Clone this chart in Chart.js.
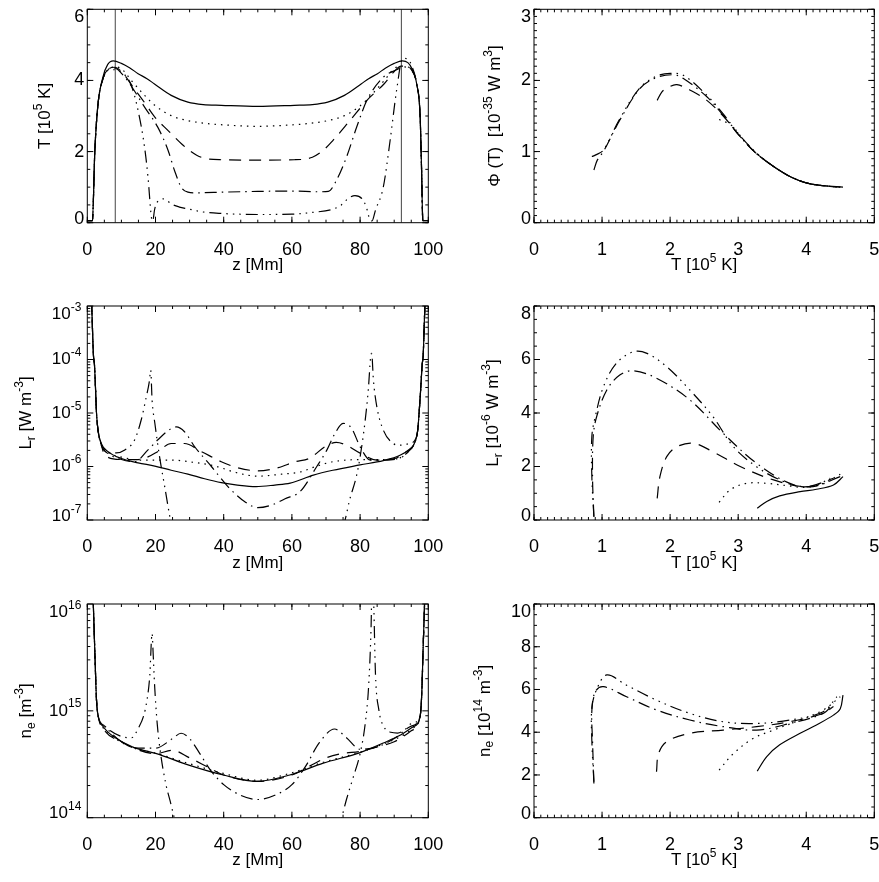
<!DOCTYPE html>
<html>
<head>
<meta charset="utf-8">
<title>Loop profiles</title>
<script src="https://cdn.jsdelivr.net/npm/chart.js@4.4.0/dist/chart.umd.min.js"></script>
<style>
  body { margin: 0; background: #fff; }
  #wrap { position: relative; width: 879px; height: 882px; }
  #wrap canvas { position: absolute; left: 0; top: 0; }
</style>
</head>
<body>
<div id="wrap">
  <canvas id="pT" width="879" height="882"></canvas>
  <canvas id="pPhi" width="879" height="882"></canvas>
  <canvas id="pL" width="879" height="882"></canvas>
  <canvas id="pLT" width="879" height="882"></canvas>
  <canvas id="pN" width="879" height="882"></canvas>
  <canvas id="pNT" width="879" height="882"></canvas>
</div>
<script>
// ---- T(z) [1e5 K] ----
const zTsolid = [0, 1.5, 2.2, 3.1, 4.6, 6, 7.6, 10, 12.5, 14.9, 17.5, 19.7, 24.6, 29.5, 34, 39.3, 50, 60.7, 66, 70.5, 75.4, 80.3, 82.5, 85.1, 87.5, 90, 92.4, 94, 95.1, 96.6, 97.6, 98.0, 98.4, 100];
const Tsolid = [0.06, 0.06, 2.0, 3.3, 4.1, 4.45, 4.55, 4.48, 4.35, 4.19, 4.05, 3.9, 3.58, 3.39, 3.32, 3.3, 3.27, 3.3, 3.32, 3.39, 3.58, 3.9, 4.05, 4.19, 4.35, 4.48, 4.55, 4.5, 4.35, 3.9, 3.0, 1.6, 0.06, 0.06];
const zTdot = [0, 1.5, 2.2, 3.1, 4.6, 6, 8, 10, 12.9, 16.8, 19.8, 24.6, 29.5, 35, 40, 50, 60, 65, 70.5, 75.4, 80.2, 83.2, 87.1, 90, 92, 94, 95.1, 96.6, 97.6, 98.0, 98.4, 100];
const Tdot = [0.06, 0.06, 2.0, 3.3, 4.05, 4.3, 4.38, 4.33, 4.0, 3.58, 3.3, 3.01, 2.87, 2.79, 2.75, 2.71, 2.75, 2.79, 2.87, 3.01, 3.3, 3.58, 4.0, 4.33, 4.4, 4.38, 4.3, 3.9, 3.0, 1.6, 0.06, 0.06];
const zTdash = [0, 1.5, 2.2, 3.1, 4.6, 6, 8, 10, 13.9, 17, 19.8, 23.7, 27.6, 30, 33.4, 39.3, 50, 60.7, 66, 69, 72, 77, 82, 87, 90, 92, 94, 95.1, 96.6, 97.6, 98.0, 98.4, 100];
const Tdash = [0.06, 0.06, 2.0, 3.3, 4.05, 4.3, 4.37, 4.25, 3.75, 3.35, 2.97, 2.59, 2.22, 2.03, 1.84, 1.77, 1.76, 1.77, 1.84, 2.02, 2.31, 2.87, 3.44, 3.9, 4.25, 4.4, 4.38, 4.3, 3.9, 3.0, 1.6, 0.06, 0.06];
const zTdd = [0, 1.5, 2.2, 3.1, 4.6, 6, 8, 10, 12.5, 14.5, 16.8, 20.7, 23.7, 25.6, 27.6, 29.5, 32, 40, 50, 60, 68, 70.7, 73, 76, 79, 82, 86.8, 90.7, 93, 94, 95.1, 96.6, 97.6, 98.0, 98.4, 100];
const Tdd = [0.06, 0.06, 2.0, 3.3, 4.05, 4.3, 4.35, 4.2, 3.9, 3.6, 3.25, 2.68, 2.03, 1.46, 0.99, 0.86, 0.84, 0.86, 0.88, 0.89, 0.87, 0.88, 1.18, 1.84, 2.69, 3.44, 4.09, 4.3, 4.38, 4.36, 4.3, 3.9, 3.0, 1.6, 0.06, 0.06];
const zTddd = [0, 1.5, 2.2, 3.1, 4.6, 6, 8, 10.5, 12.9, 14.9, 16.8, 17.8, 18.8, 19.2, 19.7, 20.2, 21.2, 22.2, 23.4, 24.6, 27, 29.5, 34, 39.3, 50, 60, 66, 72, 74.5, 76.5, 78.5, 80.5, 81.8, 82.8, 83.5, 84.5, 86.8, 88.8, 90.7, 92.5, 94, 95.1, 96.6, 97.6, 98.0, 98.4, 100];
const Tddd = [0.06, 0.06, 2.0, 3.3, 4.05, 4.28, 4.3, 4.2, 3.86, 3.15, 2.12, 1.28, 0.15, 0.05, 0.35, 0.53, 0.63, 0.67, 0.62, 0.53, 0.44, 0.39, 0.3, 0.26, 0.23, 0.24, 0.29, 0.38, 0.5, 0.68, 0.76, 0.68, 0.45, 0.1, 0.05, 0.35, 1.0, 2.31, 3.72, 4.62, 4.6, 4.42, 3.9, 3.0, 1.6, 0.06, 0.06];
const zMarks = [8.2, 92.1];

// ---- Phi(T) [1e-35 W m^3] vs T [1e5 K] ----
const TphiSolid = [3.27, 3.52, 3.76, 4.0, 4.25, 4.54];
const phiSolid = [0.97, 0.79, 0.65, 0.56, 0.52, 0.50];
const TphiDot = [2.72, 2.9, 3.1, 3.3, 3.52, 3.76, 4.0, 4.25, 4.5];
const phiDot = [1.45, 1.37, 1.14, 0.95, 0.79, 0.65, 0.56, 0.52, 0.5];
const TphiDash = [1.81, 1.88, 1.95, 2.1, 2.34, 2.54, 2.78, 3.03, 3.27, 3.52, 3.76, 4.0, 4.25, 4.4];
const phiDash = [1.72, 1.84, 1.89, 1.94, 1.84, 1.72, 1.5, 1.21, 0.97, 0.79, 0.65, 0.56, 0.52, 0.51];
const TphiDD = [0.88, 0.93, 1.02, 1.26, 1.56, 1.8, 2.05, 2.19, 2.54, 2.78, 3.03, 3.27, 3.52, 3.76, 4.0, 4.25, 4.45];
const phiDD = [0.74, 0.88, 1.0, 1.44, 1.89, 2.04, 2.08, 2.03, 1.77, 1.51, 1.21, 0.97, 0.79, 0.65, 0.56, 0.52, 0.5];
const TphiDDD = [0.85, 0.9, 1.02, 1.26, 1.56, 1.8, 2.0, 2.2, 2.54, 2.78, 3.03, 3.27, 3.52, 3.76, 4.0, 4.25, 4.5];
const phiDDD = [0.93, 0.95, 1.02, 1.46, 1.9, 2.06, 2.1, 2.07, 1.79, 1.53, 1.22, 0.98, 0.79, 0.65, 0.56, 0.52, 0.5];

// ---- L_r(z) [W m^-3] ----
const zLsolid = [1.0, 1.3, 1.8, 2.1, 2.4, 2.7, 3.14, 4.1, 6.1, 10, 14.9, 19.8, 24.6, 29.5, 34.4, 39.3, 44, 49.5, 55, 59.5, 66.3, 72, 80, 86.8, 91.7, 94.5, 95.9, 96.9, 97.3, 97.8, 98.2, 98.5, 99.0, 99.4];
const Lsolid = [3e-3, 1e-3, 1.2e-4, 8e-5, 3e-5, 1e-5, 4.8e-6, 2.7e-6, 1.9e-6, 1.41e-6, 1.17e-6, 1.02e-6, 8.5e-7, 7.2e-7, 5.9e-7, 5.0e-7, 4.5e-7, 4.2e-7, 4.5e-7, 4.9e-7, 6.9e-7, 8.5e-7, 1.07e-6, 1.29e-6, 1.62e-6, 2.1e-6, 2.69e-6, 4.8e-6, 1e-5, 3e-5, 8e-5, 1.2e-4, 1e-3, 3e-3];
const zLdot = [1.0, 1.3, 1.8, 2.1, 2.4, 2.7, 3.14, 4.1, 6.1, 10, 15.8, 24.6, 31, 38, 43, 50, 57, 62.4, 67, 72, 82, 87, 91.7, 94.5, 95.9, 96.9, 97.3, 97.8, 98.2, 98.5, 99.0, 99.4];
const Ldot = [3e-3, 1e-3, 1.2e-4, 8e-5, 3e-5, 1e-5, 4.8e-6, 2.6e-6, 1.85e-6, 1.5e-6, 1.32e-6, 1.32e-6, 1.2e-6, 1.0e-6, 7.9e-7, 6.6e-7, 7.2e-7, 7.9e-7, 1.0e-6, 1.23e-6, 1.35e-6, 1.35e-6, 1.45e-6, 2.0e-6, 2.69e-6, 4.8e-6, 1e-5, 3e-5, 8e-5, 1.2e-4, 1e-3, 3e-3];
const zLdash = [1.0, 1.3, 1.8, 2.1, 2.4, 2.7, 3.14, 4.1, 5.1, 10, 14.9, 17.8, 20.7, 24.6, 28.5, 33.4, 39.3, 44, 50, 56, 61, 65, 70, 73, 76, 80, 85, 90, 93, 95.9, 96.9, 97.3, 97.8, 98.2, 98.5, 99.0, 99.4];
const Ldash = [3e-3, 1e-3, 1.2e-4, 8e-5, 3e-5, 1e-5, 4.8e-6, 2.6e-6, 1.62e-6, 1.35e-6, 1.35e-6, 1.51e-6, 1.91e-6, 2.69e-6, 2.69e-6, 1.91e-6, 1.23e-6, 9.5e-7, 8.3e-7, 9.5e-7, 1.23e-6, 1.41e-6, 2.4e-6, 2.82e-6, 2.5e-6, 1.78e-6, 1.32e-6, 1.4e-6, 1.8e-6, 2.69e-6, 4.8e-6, 1e-5, 3e-5, 8e-5, 1.2e-4, 1e-3, 3e-3];
const zLdd = [1.0, 1.3, 1.8, 2.1, 2.4, 2.7, 3.14, 4.1, 6.1, 10, 13.9, 17.8, 20.7, 24.6, 26.1, 28.5, 31.5, 36.4, 41.3, 46.2, 50, 54, 58, 62.4, 67.3, 70.2, 72.5, 75, 77.5, 80, 83, 87, 91.7, 94.5, 95.9, 96.9, 97.3, 97.8, 98.2, 98.5, 99.0, 99.4];
const Ldd = [3e-3, 1e-3, 1.2e-4, 8e-5, 3e-5, 1e-5, 4.8e-6, 2.5e-6, 1.75e-6, 1.35e-6, 1.23e-6, 2.04e-6, 3.16e-6, 5.13e-6, 5.5e-6, 4.47e-6, 2.34e-6, 1.0e-6, 4.17e-7, 2.19e-7, 1.7e-7, 1.9e-7, 2.5e-7, 3.4e-7, 1.0e-6, 2.0e-6, 4.0e-6, 6.4e-6, 5.2e-6, 2.34e-6, 1.32e-6, 1.32e-6, 1.45e-6, 2.0e-6, 2.69e-6, 4.8e-6, 1e-5, 3e-5, 8e-5, 1.2e-4, 1e-3, 3e-3];
const zLddd = [1.0, 1.3, 1.8, 2.1, 2.4, 2.7, 3.14, 4.1, 6.1, 8.5, 11, 13.9, 15.8, 17.3, 18.2, 18.6, 19.0, 19.8, 21.2, 22.7, 24.2, 26, 30, 50, 70, 74, 75.6, 76.9, 78.9, 80, 81.4, 82.4, 83.1, 83.4, 83.9, 84.9, 86.8, 89.7, 91.7, 94.5, 95.9, 96.9, 97.3, 97.8, 98.2, 98.5, 99.0, 99.4];
const Lddd = [3e-3, 1e-3, 1.2e-4, 8e-5, 3e-5, 1e-5, 4.8e-6, 2.6e-6, 1.85e-6, 1.8e-6, 2.04e-6, 3.16e-6, 7.4e-6, 2.0e-5, 3.9e-5, 6.3e-5, 1.74e-5, 6.5e-6, 1.51e-6, 4.2e-7, 1.15e-7, 3e-8, 5e-9, 1e-10, 5e-9, 5e-8, 1e-7, 2.34e-7, 6.5e-7, 1.51e-6, 6.5e-6, 2.7e-5, 1.12e-4, 1.3e-4, 4.17e-5, 1.32e-5, 4.8e-6, 2.7e-6, 2.5e-6, 2.7e-6, 3.0e-6, 4.8e-6, 1e-5, 3e-5, 8e-5, 1.2e-4, 1e-3, 3e-3];

// ---- L_r [1e-6 W m^-3] vs T ----
const TLsolid = [3.28, 3.42, 3.61, 3.91, 4.15, 4.4, 4.54];
const LTsolid = [0.44, 0.69, 0.9, 1.06, 1.15, 1.31, 1.62];
const TLdot = [2.72, 2.88, 3.12, 3.42, 3.76, 4.0, 4.25, 4.5];
const LTdot = [0.66, 1.12, 1.37, 1.37, 1.27, 1.22, 1.37, 1.71];
const TLdash = [1.81, 1.85, 1.95, 2.1, 2.34, 2.63, 3.03, 3.52, 4.0, 4.4];
const LTdash = [0.81, 1.62, 2.37, 2.74, 2.87, 2.55, 2.0, 1.5, 1.25, 1.56];
const TLdd = [0.88, 0.86, 0.87, 0.92, 1.07, 1.26, 1.46, 1.8, 2.29, 2.78, 3.27, 3.76, 4.1, 4.5];
const LTdd = [0.12, 1.62, 3.12, 3.86, 4.86, 5.42, 5.58, 5.3, 4.49, 3.24, 2.12, 1.37, 1.25, 1.62];
const TLddd = [0.88, 0.85, 0.85, 0.9, 1.02, 1.21, 1.46, 1.66, 1.95, 2.29, 2.63, 2.93, 3.27, 3.61, 3.91, 4.15, 4.35];
const LTddd = [0.12, 1.62, 3.12, 3.86, 4.98, 5.86, 6.29, 6.23, 5.73, 4.86, 3.86, 2.74, 1.99, 1.5, 1.25, 1.31, 1.56];

// ---- n_e(z) [m^-3] ----
const zNsolid = [1.2, 1.76, 2.25, 2.7, 3.2, 4.7, 8.6, 13.5, 20.3, 30, 39.9, 49.7, 59.4, 69.2, 80, 86.8, 91.7, 95.6, 97.6, 98.1, 98.5, 98.9, 99.3];
const Nsolid = [3e16, 1e16, 3.24e15, 1.26e15, 8.9e14, 7.1e14, 5.5e14, 4.57e14, 3.98e14, 3.09e14, 2.51e14, 2.19e14, 2.51e14, 3.24e14, 4.07e14, 5.0e14, 5.9e14, 7.1e14, 8.9e14, 1.5e15, 4e15, 1e16, 3e16];
const zNdot = [1.2, 1.76, 2.25, 2.7, 3.2, 4.7, 8.6, 13.5, 20.3, 30, 39.9, 49.7, 59.4, 69.2, 80, 86.8, 91.7, 95.6, 97.6, 98.1, 98.5, 98.9, 99.3];
const Ndot = [3e16, 1e16, 3.24e15, 1.26e15, 8.9e14, 6.9e14, 5.4e14, 4.5e14, 4.0e14, 3.2e14, 2.6e14, 2.24e14, 2.6e14, 3.3e14, 4.1e14, 4.9e14, 5.7e14, 6.9e14, 8.9e14, 1.5e15, 4e15, 1e16, 3e16];
const zNdash = [1.2, 1.76, 2.25, 2.7, 3.2, 4.7, 10, 15, 20, 25, 30, 35, 40, 50, 60, 65, 70, 75, 80, 85, 90, 95, 97.6, 98.1, 98.5, 98.9, 99.3];
const Ndash = [3e16, 1e16, 3.24e15, 1.26e15, 8.9e14, 6.8e14, 5.13e14, 4.3e14, 3.98e14, 4.27e14, 3.63e14, 3.02e14, 2.51e14, 2.19e14, 2.51e14, 3.02e14, 3.63e14, 4.0e14, 4.17e14, 4.6e14, 5.13e14, 6.5e14, 8.9e14, 1.5e15, 4e15, 1e16, 3e16];
const zNdd = [1.2, 1.76, 2.25, 2.7, 3.2, 5, 10, 15, 20, 25, 27.5, 30, 33, 36, 40, 45, 50, 55, 60, 64, 68, 72.5, 76, 80, 85, 90, 95, 97.6, 98.1, 98.5, 98.9, 99.3];
const Ndd = [3e16, 1e16, 3.24e15, 1.26e15, 8.9e14, 7.24e14, 5.13e14, 4.47e14, 4.47e14, 5.5e14, 6.17e14, 5.5e14, 3.98e14, 2.82e14, 2.04e14, 1.62e14, 1.48e14, 1.62e14, 2.04e14, 3.02e14, 5.01e14, 6.76e14, 5.6e14, 4.37e14, 4.6e14, 5.5e14, 7.2e14, 8.9e14, 1.5e15, 4e15, 1e16, 3e16];
const zNddd = [1.2, 1.76, 2.25, 2.7, 3.2, 5, 10, 13, 15, 16.5, 17.5, 18.3, 19.0, 19.3, 19.7, 20.5, 21.5, 23, 24.5, 25.5, 28, 50, 72, 74.6, 76, 78, 80, 81.5, 82.5, 83.2, 83.6, 84.0, 84.5, 85.5, 87, 89, 91, 93, 95, 97.6, 98.1, 98.5, 98.9, 99.3];
const Nddd = [3e16, 1e16, 3.24e15, 1.26e15, 8.9e14, 7.24e14, 5.75e14, 5.6e14, 6.92e14, 8.91e14, 1.26e15, 2.09e15, 5.3e15, 3.5e15, 1.82e15, 7.59e14, 3.98e14, 2.09e14, 1.35e14, 1e14, 5e13, 1e13, 5e13, 1e14, 1.48e14, 2.4e14, 3.98e14, 7.59e14, 1.7e15, 5.75e15, 2e16, 1e16, 2.24e15, 1.02e15, 7.08e14, 6.3e14, 6.2e14, 6.6e14, 7.59e14, 8.9e14, 1.5e15, 4e15, 1e16, 3e16];

// ---- n_e [1e14 m^-3] vs T ----
const TNsolid = [3.28, 3.42, 3.61, 3.91, 4.15, 4.4, 4.5, 4.54];
const NTsolid = [2.18, 2.86, 3.41, 3.95, 4.34, 4.8, 5.1, 5.74];
const TNdot = [2.72, 2.93, 3.22, 3.52, 3.91, 4.25, 4.5];
const NTdot = [2.23, 3.0, 3.71, 4.1, 4.57, 5.04, 5.66];
const TNdash = [1.80, 1.83, 1.95, 2.29, 2.78, 3.27, 3.76, 4.25, 4.4];
const NTdash = [2.15, 3.0, 3.56, 3.95, 4.1, 4.26, 4.49, 4.88, 5.2];
const TNdd = [0.88, 0.86, 0.85, 0.9, 1.02, 1.36, 1.8, 2.29, 2.78, 3.27, 3.76, 4.25, 4.4];
const NTdd = [1.6, 3.6, 5.0, 5.9, 6.13, 5.66, 5.04, 4.57, 4.26, 4.1, 4.41, 4.88, 5.35];
const TNddd = [0.88, 0.85, 0.85, 0.92, 1.07, 1.36, 1.8, 2.29, 2.78, 3.27, 3.76, 4.25, 4.45];
const NTddd = [1.68, 3.6, 5.14, 6.0, 6.68, 6.2, 5.5, 4.88, 4.49, 4.41, 4.57, 4.96, 5.66];

// tick labels
const zTicks = [0, 20, 40, 60, 80, 100];
const tTicks = [0, 1, 2, 3, 4, 5];
const tempTicks = [0, 2, 4, 6];
const phiTicks = [0, 1, 2, 3];
const lrTicks = [1e-7, 1e-6, 1e-5, 1e-4, 1e-3];
const lrLinTicks = [0, 2, 4, 6, 8];
const neTicks = [1e14, 1e15, 1e16];
const neLinTicks = [0, 2, 4, 6, 8, 10];

const DOT = [1.5, 5], DASH = [12, 8], DASHDOT = [12, 5, 1.5, 5], DASHDOT3 = [12, 5, 1.5, 5, 1.5, 5, 1.5, 5];
const FONT = '"Liberation Sans", Arial, Helvetica, sans-serif';
const FS = 17;   // titles
const TS = 18;   // tick labels

function steps(a, b, step) {
    const out = [];
    for (let v = a; v <= b + 1e-9; v += step) out.push(+v.toFixed(6));
    return out;
}

function logMinor(e0, e1) {
    const out = [];
    for (let e = e0; e < e1; e++) {
        for (let k = 2; k <= 9; k++) out.push(k * Math.pow(10, e));
    }
    return out;
}

function curve(xs, ys, dash, mono) {
    return {
        data: xs.map((x, i) => ({ x: x, y: ys[i] })),
        showLine: true,
        borderColor: '#000',
        borderWidth: 1.2,
        borderDash: dash || [],
        borderCapStyle: 'butt',
        pointRadius: 0,
        fill: false,
        cubicInterpolationMode: mono ? 'monotone' : 'default',
        tension: mono ? 0 : 0.35,
        capBezierPoints: false
    };
}

function vline(x, y0, y1) {
    return {
        data: [{ x: x, y: y0 }, { x: x, y: y1 }],
        showLine: true, borderColor: '#444', borderWidth: 1, pointRadius: 0, fill: false
    };
}

function drawRich(ctx, parts, x, y, align, size) {
    const big = size || FS, small = Math.round(big * 0.7);
    let w = 0;
    parts.forEach(p => {
        ctx.font = (p[1] ? small : big) + 'px ' + FONT;
        w += ctx.measureText(p[0]).width;
    });
    let cx = align === 'center' ? x - w / 2 : (align === 'right' ? x - w : x);
    parts.forEach(p => {
        ctx.font = (p[1] ? small : big) + 'px ' + FONT;
        const dy = p[1] === 1 ? -big * 0.4 : (p[1] === -1 ? big * 0.3 : 0);
        ctx.fillText(p[0], cx, y + dy);
        cx += ctx.measureText(p[0]).width;
    });
}

function framePlugin(cfg) {
    return {
        id: 'frame',
        afterDraw(chart) {
            const ctx = chart.ctx, a = chart.chartArea;
            const xs = chart.scales.x, ys = chart.scales.y;
            ctx.save();
            ctx.strokeStyle = '#000';
            ctx.lineWidth = 1;
            ctx.strokeRect(a.left, a.top, a.right - a.left, a.bottom - a.top);
            ctx.beginPath();
            const xt = (v, len) => {
                const p = xs.getPixelForValue(v);
                ctx.moveTo(p, a.bottom); ctx.lineTo(p, a.bottom - len);
                ctx.moveTo(p, a.top); ctx.lineTo(p, a.top + len);
            };
            const yt = (v, len) => {
                const p = ys.getPixelForValue(v);
                ctx.moveTo(a.left, p); ctx.lineTo(a.left + len, p);
                ctx.moveTo(a.right, p); ctx.lineTo(a.right - len, p);
            };
            cfg.xTicks.forEach(v => xt(v, 6));
            cfg.xMinor.forEach(v => xt(v, 3));
            cfg.yTicks.forEach(v => yt(v, 6));
            cfg.yMinor.forEach(v => yt(v, 3));
            ctx.stroke();

            ctx.fillStyle = '#000';
            ctx.textBaseline = 'middle';
            ctx.textAlign = 'left';
            cfg.xTicks.forEach(v => drawRich(ctx, [[String(v), 0]], xs.getPixelForValue(v), a.bottom + 27, 'center', TS));
            cfg.yTicks.forEach((v, i) => {
                let y = ys.getPixelForValue(v);
                if (i === 0) y -= 4;
                else if (i === cfg.yTicks.length - 1) y += 8;
                const parts = cfg.yLog
                    ? [['10', 0], [String(Math.round(Math.log10(v))), 1]]
                    : [[String(v), 0]];
                drawRich(ctx, parts, a.left - (cfg.yLog ? 6 : 3), y, 'right', cfg.yLog ? FS : TS);
            });
            drawRich(ctx, cfg.xTitle, (a.left + a.right) / 2, a.bottom + 43, 'center', FS);
            ctx.translate(cfg.yTitleX, (a.top + a.bottom) / 2);
            ctx.rotate(-Math.PI / 2);
            drawRich(ctx, cfg.yTitle, 0, 0, 'center', FS);
            ctx.restore();
        }
    };
}

function makeChart(id, cfg) {
    const b = cfg.box;
    return new Chart(document.getElementById(id), {
        type: 'scatter',
        data: { datasets: cfg.series },
        options: {
            responsive: false,
            animation: false,
            devicePixelRatio: 1,
            events: [],
            layout: { padding: { left: b[0], right: 879 - b[1], top: b[2], bottom: 882 - b[3] } },
            scales: {
                x: { type: 'linear', display: false, min: cfg.xMin, max: cfg.xMax, bounds: 'data' },
                y: { type: cfg.yLog ? 'logarithmic' : 'linear', display: false, min: cfg.yMin, max: cfg.yMax, bounds: 'data' }
            },
            plugins: { legend: { display: false }, tooltip: { enabled: false } }
        },
        plugins: [framePlugin(cfg)]
    });
}

const LEFT = [87.3, 428.3], RIGHT = [534, 874.3];
const ROW1 = [9.3, 222.7], ROW2 = [306, 520], ROW3 = [604, 817.7];
const zTitle = [['z [Mm]', 0]];
const tTitle = [['T [10', 0], ['5', 1], [' K]', 0]];

makeChart('pT', {
    box: [LEFT[0], LEFT[1], ROW1[0], ROW1[1]], xMin: 0, xMax: 100, yMin: 0, yMax: 6,
    xTicks: zTicks, xMinor: steps(0, 100, 5), yTicks: tempTicks, yMinor: steps(0, 6, 0.5),
    xTitle: zTitle, yTitle: [['T [10', 0], ['5', 1], [' K]', 0]], yTitleX: 45.7,
    series: [
        curve(zTsolid, Tsolid, [], true),
        curve(zTdot, Tdot, DOT, true),
        curve(zTdash, Tdash, DASH, true),
        curve(zTdd, Tdd, DASHDOT, true),
        curve(zTddd, Tddd, DASHDOT3, true),
        vline(zMarks[0], 0, 6),
        vline(zMarks[1], 0, 6)
    ]
});

makeChart('pPhi', {
    box: [RIGHT[0], RIGHT[1], ROW1[0], ROW1[1]], xMin: 0, xMax: 5, yMin: 0, yMax: 3,
    xTicks: tTicks, xMinor: steps(0, 5, 0.1), yTicks: phiTicks, yMinor: steps(0, 3, 0.1),
    xTitle: tTitle, yTitle: [['\u03A6 (T)  [10', 0], ['-35', 1], [' W m', 0], ['3', 1], [']', 0]], yTitleX: 495,
    series: [
        curve(TphiSolid, phiSolid, [], false),
        curve(TphiDot, phiDot, DOT, false),
        curve(TphiDash, phiDash, DASH, false),
        curve(TphiDD, phiDD, DASHDOT, false),
        curve(TphiDDD, phiDDD, DASHDOT3, false)
    ]
});

makeChart('pL', {
    box: [LEFT[0], LEFT[1], ROW2[0], ROW2[1]], xMin: 0, xMax: 100, yMin: 1e-7, yMax: 1e-3, yLog: true,
    xTicks: zTicks, xMinor: steps(0, 100, 5), yTicks: lrTicks, yMinor: logMinor(-7, -3),
    xTitle: zTitle, yTitle: [['L', 0], ['r', -1], [' [W m', 0], ['-3', 1], [']', 0]], yTitleX: 26.7,
    series: [
        curve(zLsolid, Lsolid, [], true),
        curve(zLdot, Ldot, DOT, true),
        curve(zLdash, Ldash, DASH, true),
        curve(zLdd, Ldd, DASHDOT, true),
        curve(zLddd, Lddd, DASHDOT3, true)
    ]
});

makeChart('pLT', {
    box: [RIGHT[0], RIGHT[1], ROW2[0], ROW2[1]], xMin: 0, xMax: 5, yMin: 0, yMax: 8,
    xTicks: tTicks, xMinor: steps(0, 5, 0.1), yTicks: lrLinTicks, yMinor: steps(0, 8, 0.5),
    xTitle: tTitle, yTitle: [['L', 0], ['r', -1], [' [10', 0], ['-6', 1], [' W m', 0], ['-3', 1], [']', 0]], yTitleX: 493.3,
    series: [
        curve(TLsolid, LTsolid, [], false),
        curve(TLdot, LTdot, DOT, false),
        curve(TLdash, LTdash, DASH, false),
        curve(TLdd, LTdd, DASHDOT, false),
        curve(TLddd, LTddd, DASHDOT3, false)
    ]
});

makeChart('pN', {
    box: [LEFT[0], LEFT[1], ROW3[0], ROW3[1]], xMin: 0, xMax: 100, yMin: 1e14, yMax: 1e16, yLog: true,
    xTicks: zTicks, xMinor: steps(0, 100, 5), yTicks: neTicks, yMinor: logMinor(14, 16),
    xTitle: zTitle, yTitle: [['n', 0], ['e', -1], [' [m', 0], ['-3', 1], [']', 0]], yTitleX: 26.7,
    series: [
        curve(zNsolid, Nsolid, [], true),
        curve(zNdot, Ndot, DOT, true),
        curve(zNdash, Ndash, DASH, true),
        curve(zNdd, Ndd, DASHDOT, true),
        curve(zNddd, Nddd, DASHDOT3, true)
    ]
});

makeChart('pNT', {
    box: [RIGHT[0], RIGHT[1], ROW3[0], ROW3[1]], xMin: 0, xMax: 5, yMin: 0, yMax: 10,
    xTicks: tTicks, xMinor: steps(0, 5, 0.1), yTicks: neLinTicks, yMinor: steps(0, 10, 0.5),
    xTitle: tTitle, yTitle: [['n', 0], ['e', -1], [' [10', 0], ['14', 1], [' m', 0], ['-3', 1], [']', 0]], yTitleX: 485,
    series: [
        curve(TNsolid, NTsolid, [], false),
        curve(TNdot, NTdot, DOT, false),
        curve(TNdash, NTdash, DASH, false),
        curve(TNdd, NTdd, DASHDOT, false),
        curve(TNddd, NTddd, DASHDOT3, false)
    ]
});
</script>
</body>
</html>
